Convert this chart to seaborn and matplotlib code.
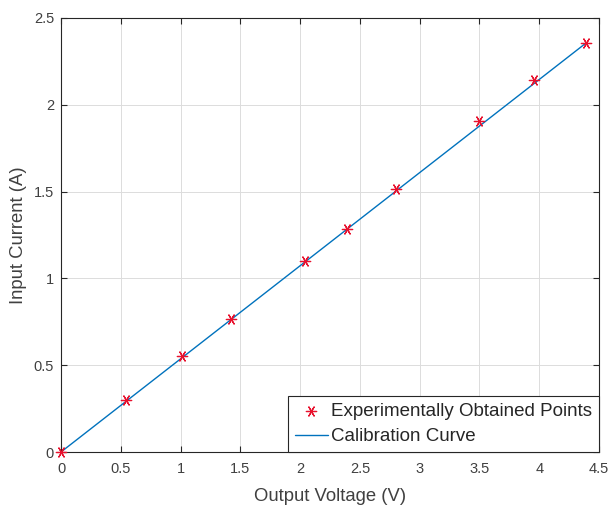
import matplotlib
matplotlib.use("Agg")
import matplotlib.pyplot as plt
import seaborn as sns
import pandas as pd

# Data
voltage = [0.0, 0.54, 1.01, 1.42, 2.04, 2.39, 2.80, 3.495, 3.955, 4.39]
current = [0.0, 0.30, 0.552, 0.765, 1.10, 1.282, 1.513, 1.909, 2.14, 2.355]
cal_voltage = [0.0, 4.39]
cal_current = [0.0, 2.355]

x_ticks = [0, 0.5, 1, 1.5, 2, 2.5, 3, 3.5, 4, 4.5]
x_tick_labels = ["0", "0.5", "1", "1.5", "2", "2.5", "3", "3.5", "4", "4.5"]
y_ticks = [0, 0.5, 1, 1.5, 2, 2.5]
y_tick_labels = ["0", "0.5", "1", "1.5", "2", "2.5"]

sns.set_style("ticks")
plt.rcParams["font.family"] = ["Liberation Sans", "DejaVu Sans"]

pts = pd.DataFrame({"V": voltage, "I": current})
cal = pd.DataFrame({"V": cal_voltage, "I": cal_current})

fig = plt.figure(figsize=(6.11, 5.09), dpi=100)
ax = fig.add_axes([61 / 611, 1 - 452 / 509, (599 - 61) / 611, (452 - 18) / 509])

text_col = "#404040"
sns.lineplot(data=cal, x="V", y="I", ax=ax, color="#0072BD", linewidth=1.0,
             label="Calibration Curve", zorder=2)
sns.scatterplot(data=pts, x="V", y="I", ax=ax, marker=(6, 2, 90), s=55,
                color="#E8112D", edgecolor="#E8112D", linewidth=0.9,
                label="Experimentally Obtained Points", zorder=3, clip_on=False)

ax.set_xlim(0, 4.5)
ax.set_ylim(0, 2.5)
ax.set_xticks(x_ticks)
ax.set_xticklabels(x_tick_labels)
ax.set_yticks(y_ticks)
ax.set_yticklabels(y_tick_labels)
ax.grid(True, color="#dcdcdc", linewidth=0.7)
ax.set_axisbelow(True)
ax.tick_params(direction="in", top=True, right=True, length=4, width=0.8,
               colors="#262626", labelsize=10.5, labelcolor=text_col)
ax.tick_params(axis="x", pad=7)
ax.tick_params(axis="y", pad=5)
for s in ax.spines.values():
    s.set_visible(True)
    s.set_color("#262626")
    s.set_linewidth(0.8)

ax.set_xlabel("Output Voltage (V)", fontsize=13.3, color=text_col, labelpad=9)
ax.set_ylabel("Input Current (A)", fontsize=13.3, color=text_col, labelpad=4.5)

handles, labels = ax.get_legend_handles_labels()
order = [labels.index("Experimentally Obtained Points"), labels.index("Calibration Curve")]
leg = ax.legend([handles[i] for i in order], [labels[i] for i in order],
                loc="lower right", borderaxespad=0, fancybox=False,
                edgecolor="#262626", framealpha=1, fontsize=13.5,
                handlelength=1.75, handletextpad=0.2, borderpad=0.35,
                labelspacing=0.45)
leg.get_frame().set_linewidth(0.8)
for t in leg.get_texts():
    t.set_color("#262626")

fig.savefig("out.png", dpi=100)
